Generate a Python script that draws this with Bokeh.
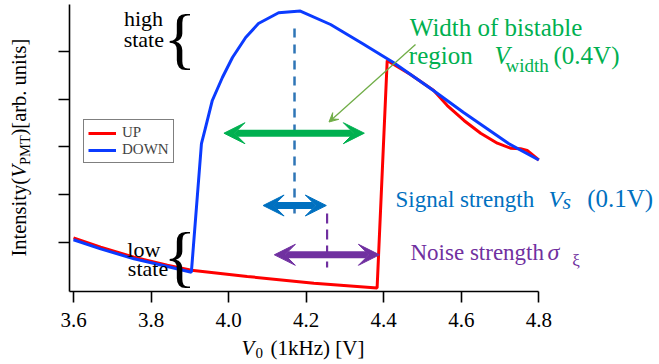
import numpy as np
from bokeh.plotting import figure
from bokeh.models import (Label, Arrow, VeeHead, Legend, LegendItem,
                          FixedTicker, Range1d, LinearAxis)
from bokeh.embed import file_html
from bokeh.resources import INLINE

# ---------------- data ----------------
up_v = [3.600, 3.670, 3.756, 3.842, 3.904, 4.048, 4.220, 4.383, 4.409,
        4.469, 4.529, 4.564, 4.607, 4.650, 4.693, 4.727, 4.753, 4.770, 4.800]
up_i = [1.101, 0.905, 0.696, 0.529, 0.424, 0.293, 0.153, 0.052, 4.807,
        4.514, 4.180, 3.866, 3.553, 3.287, 3.078, 2.974, 2.961, 2.926, 2.727]

down_v = [3.600, 3.670, 3.756, 3.842, 3.904, 3.930, 3.940, 3.958, 3.984,
          4.010, 4.044, 4.077, 4.129, 4.185, 4.263, 4.345, 4.425, 4.521,
          4.606, 4.722, 4.800]
down_i = [1.060, 0.871, 0.662, 0.502, 0.382, 3.072, 3.386, 3.971, 4.451,
          4.869, 5.287, 5.580, 5.804, 5.841, 5.559, 5.162, 4.765, 4.222,
          3.720, 3.072, 2.727]

x_ticks = [3.6, 3.8, 4.0, 4.2, 4.4, 4.6, 4.8]
x_tick_labels = ["3.6", "3.8", "4.0", "4.2", "4.4", "4.6", "4.8"]
y_ticks = [1, 2, 3, 4, 5]

# annotation values (V)
bistable_range = [3.988, 4.350]
signal_range = [4.089, 4.252]
noise_range = [4.118, 4.389]
signal_center = 4.170
noise_center = 4.254

# ---------------- layout helpers ----------------
W, H = 659, 364
PXV = 387.75   # pixels per volt
PYU = 47.85    # pixels per intensity unit
K = 0.34       # baseline correction (fraction of font size)


def xd(px):
    return 3.6 + (px - 73) / PXV


def yd(py):
    return (290 - py) / PYU


SERIF = "Liberation Serif"
GREEN = "#00b050"
BLUE_T = "#0070c0"
PURPLE = "#7030a0"

p = figure(width=W, height=H, output_backend="svg", toolbar_location=None,
           x_range=Range1d(xd(0), xd(W)), y_range=Range1d(yd(H), yd(0)),
           x_axis_type=None, y_axis_type=None,
           min_border_left=0, min_border_right=0, min_border_top=0,
           min_border_bottom=0)
p.outline_line_color = None
p.background_fill_color = "white"
p.border_fill_color = "white"

xaxis = LinearAxis(fixed_location=yd(291), bounds=(xd(69), 4.8),
                   ticker=FixedTicker(ticks=x_ticks))
yaxis = LinearAxis(fixed_location=xd(69), bounds=(yd(291), yd(4)),
                   ticker=FixedTicker(ticks=y_ticks))
for ax in (xaxis, yaxis):
    ax.axis_line_color = "black"
    ax.axis_line_width = 1.6
    ax.major_tick_line_color = "black"
    ax.major_tick_line_width = 1.6
    ax.major_tick_out = 11
    ax.major_tick_in = 0
    ax.minor_tick_line_color = None

xaxis.major_label_overrides = {t: l for t, l in zip(x_ticks, x_tick_labels)}
xaxis.major_label_text_font = SERIF
xaxis.major_label_text_font_size = "21px"
xaxis.major_label_text_color = "black"
xaxis.major_label_standoff = 10
yaxis.major_label_overrides = {t: "" for t in y_ticks}
p.add_layout(xaxis, "below")
p.add_layout(yaxis, "left")

r_up = p.line(up_v, up_i, line_color="#ff0000", line_width=3)
r_down = p.line(down_v, down_i, line_color="#0b3bff", line_width=3)

legend = Legend(items=[LegendItem(label="UP", renderers=[r_up]),
                       LegendItem(label="DOWN", renderers=[r_down])],
                location=(83, H - 163), padding=4, spacing=0, margin=0,
                glyph_width=28, glyph_height=16, label_height=16,
                label_standoff=6, label_text_font=SERIF,
                label_text_font_size="15px", border_line_color="black",
                border_line_width=1.5, background_fill_alpha=1.0)
p.add_layout(legend)

# dashed guide lines
p.line([signal_center, signal_center], [yd(28), yd(218)],
       line_color="#2e75b6", line_width=2.5, line_dash="9 7")
p.line([noise_center, noise_center], [yd(213), yd(267)],
       line_color=PURPLE, line_width=2.2, line_dash="10 6")


def dbl_arrow(x0, x1, y, color, size):
    p.add_layout(Arrow(start=VeeHead(size=size, fill_color=color, line_color=color, line_width=1),
                       end=VeeHead(size=size, fill_color=color, line_color=color, line_width=1),
                       x_start=x0, y_start=y, x_end=x1, y_end=y,
                       line_color=color, line_width=7))


dbl_arrow(bistable_range[0], bistable_range[1], yd(132.7), GREEN, 21)
dbl_arrow(signal_range[0], signal_range[1], yd(205), BLUE_T, 21)
dbl_arrow(noise_range[0], noise_range[1], yd(254.3), PURPLE, 21)

# thin pointer arrow
p.add_layout(Arrow(end=VeeHead(size=9, fill_color="#70ad47", line_color="#70ad47", line_width=1),
                   x_start=xd(415), y_start=yd(44), x_end=xd(328.5), y_end=yd(121.5),
                   line_color="#70ad47", line_width=1.3))


def lab(px, py, text, color="black", size=24, style="normal", align="left",
        angle=0, corr=True):
    c = K * size if corr else 0.0
    if angle:
        px = px - c
    else:
        py = py - c
    p.add_layout(Label(x=xd(px), y=yd(py), text=text, text_color=color,
                       text_font=SERIF, text_font_size=f"{size}px",
                       text_font_style=style, text_align=align,
                       text_baseline="alphabetic", angle=angle,
                       angle_units="deg"))


# state labels with braces
lab(143, 25, "high", size=22, align="center")
lab(143.3, 46.7, "state", size=22, align="center")
lab(143.3, 256, "low", size=22, align="center")
lab(147.5, 275, "state", size=22, align="center")
lab(163, 37, "{", size=68, corr=False)
lab(163, 255.5, "{", size=68, corr=False)

# green text
lab(409.3, 35, "Width of bistable", GREEN, size=25)
lab(408.3, 63.5, "region", GREEN, size=25)
lab(494, 63.5, "V", GREEN, size=25, style="italic")
lab(505, 71, "width", GREEN, size=19)
lab(553, 63.5, "(0.4V)", GREEN, size=25)

# blue text
lab(395, 206.5, "Signal strength", BLUE_T, size=23)
lab(548, 206.5, "V", BLUE_T, size=24, style="italic")
lab(562, 208, "s", BLUE_T, size=22, style="italic")
lab(586.7, 206.5, "(0.1V)", BLUE_T, size=25)

# purple text
lab(410, 260, "Noise strength", PURPLE, size=23)
lab(547, 260, "σ", PURPLE, size=24, style="italic")
lab(571.7, 266, "ξ", PURPLE, size=17)

# x axis label
lab(241, 354.5, "V", size=21, style="italic")
lab(255, 358, "0", size=15)
lab(270, 354.5, "(1kHz) [V]", size=21)

# y axis label (rotated)
lab(25, 256, "Intensity(", size=20.5, angle=90)
lab(25, 177, "V", size=20.5, style="italic", angle=90)
lab(29, 164.5, "PMT", size=14.5, angle=90)
lab(25, 135, ")[arb. units]", size=20.5, angle=90)

open("out.html", "w").write(file_html(p, INLINE))
